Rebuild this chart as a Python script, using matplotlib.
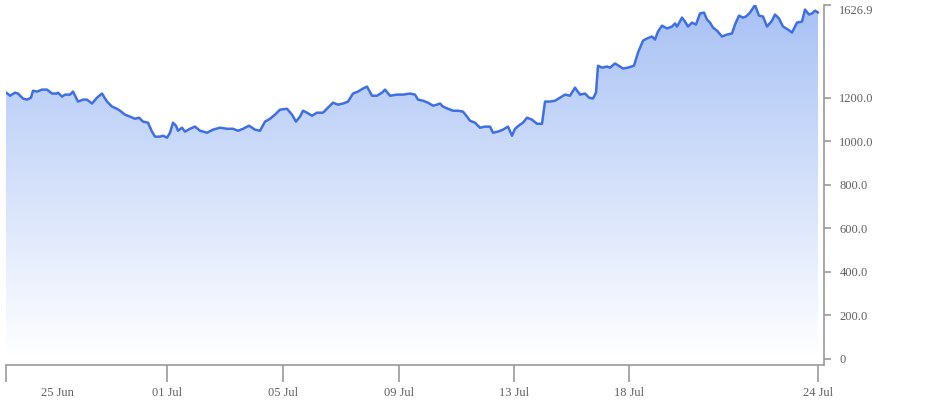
import numpy as np
import matplotlib.pyplot as plt
from matplotlib.colors import LinearSegmentedColormap
from matplotlib.ticker import FixedLocator

# ------------------------------
# Datos
# ------------------------------
# posición a lo largo del eje (unidades de muestra)
t = [0, 4, 9, 12, 17, 21, 25, 27, 31, 36, 41, 46, 51, 52, 56, 59, 64, 67, 72, 77,
     81, 86, 91, 96, 101, 106, 111, 114, 119, 124, 129, 133, 137, 142, 146, 149, 154, 157, 161, 164,
     167, 170, 172, 176, 179, 184, 189, 194, 201, 207, 214, 221, 227, 232, 237, 243, 249, 254, 259, 264,
     269, 274, 281, 286, 290, 294, 297, 301, 306, 311, 317, 322, 327, 332, 337, 342, 347, 352, 357, 361,
     366, 371, 376, 379, 384, 391, 397, 404, 409, 412, 417, 422, 427, 431, 434, 437, 442, 447, 452, 457,
     461, 464, 469, 474, 479, 484, 487, 492, 497, 502, 506, 509, 514, 517, 521, 526, 531, 536, 539, 544,
     549, 554, 559, 564, 569, 574, 579, 583, 587, 590, 592, 596, 601, 604, 609, 614, 617, 622, 628, 632,
     637, 641, 646, 649, 652, 656, 661, 666, 669, 671, 676, 679, 682, 686, 690, 694, 698, 701, 704, 707,
     711, 716, 721, 726, 729, 733, 737, 740, 744, 749, 753, 757, 761, 766, 769, 773, 777, 782, 786, 791,
     796, 799, 803, 806, 809, 812]
valores = [1225, 1210, 1224, 1220, 1197, 1192, 1201, 1233, 1229, 1238, 1238, 1220, 1220, 1224, 1206, 1215, 1215, 1229, 1183, 1192,
           1192, 1174, 1201, 1220, 1183, 1160, 1150, 1141, 1123, 1114, 1104, 1109, 1091, 1086, 1045, 1022, 1022, 1026, 1017, 1040,
           1086, 1072, 1049, 1063, 1045, 1058, 1068, 1049, 1040, 1054, 1063, 1058, 1058, 1049, 1058, 1072, 1054, 1049, 1091, 1104,
           1123, 1146, 1150, 1123, 1091, 1114, 1141, 1132, 1118, 1132, 1132, 1155, 1178, 1169, 1174, 1183, 1220, 1229, 1243, 1252,
           1210, 1210, 1224, 1238, 1210, 1215, 1215, 1220, 1215, 1192, 1187, 1178, 1164, 1169, 1174, 1160, 1150, 1141, 1141, 1137,
           1114, 1095, 1086, 1063, 1068, 1068, 1040, 1045, 1054, 1068, 1026, 1058, 1077, 1086, 1109, 1100, 1081, 1081, 1183, 1183,
           1187, 1201, 1215, 1210, 1247, 1215, 1220, 1201, 1197, 1224, 1348, 1339, 1344, 1339, 1358, 1344, 1335, 1339, 1348, 1408,
           1463, 1473, 1482, 1468, 1505, 1532, 1519, 1528, 1542, 1528, 1569, 1551, 1528, 1546, 1537, 1588, 1592, 1560, 1546, 1523,
           1509, 1482, 1491, 1496, 1537, 1578, 1569, 1574, 1592, 1626.9, 1578, 1574, 1528, 1555, 1583, 1565, 1528, 1514, 1500, 1546,
           1551, 1606, 1583, 1588, 1601, 1592]

# etiquetas del eje X
pos_ticks_x = [0, 161, 277, 393, 508, 623, 812]
etiquetas_x = ["", "01 Jul", "05 Jul", "09 Jul", "13 Jul", "18 Jul", "24 Jul"]
pos_primera = 51
etiqueta_primera = "25 Jun"

# etiquetas del eje Y
ticks_y = [0, 200, 400, 600, 800, 1000, 1200, 1626.9]
etiquetas_y = ["0", "200.0", "400.0", "600.0", "800.0", "1000.0", "1200.0", "1626.9"]

t = np.array(t, dtype=float)
valores = np.array(valores, dtype=float)

color_linea = "#3f6fe2"
color_eje = "#9a9a9a"
color_texto = "#606060"

fig = plt.figure(figsize=(9.41, 4.08), dpi=100)
ax = fig.add_axes([6 / 941, 43 / 408, 818 / 941, 360 / 408])

y_max = max(valores)
y_min = -27.6
ax.set_xlim(0, t[-1] + 6)
ax.set_ylim(y_min, y_max)

# Relleno con degradado (azul arriba -> blanco abajo)
cmap = LinearSegmentedColormap.from_list("deg", [(1, 1, 1), (0.66, 0.76, 0.96)])
gradiente = np.linspace(0, 1, 256).reshape(-1, 1)
relleno = ax.fill_between(t, valores, y_min, color="none", lw=0)
img = ax.imshow(gradiente, cmap=cmap, aspect="auto", origin="lower",
                extent=(t[0], t[-1], 0, y_max), zorder=1)
img.set_clip_path(relleno.get_paths()[0], transform=ax.transData)
ax.plot(t, valores, color=color_linea, lw=1.8, zorder=3,
        solid_joinstyle="round", solid_capstyle="round")

# Ejes
ax.spines["top"].set_visible(False)
ax.spines["left"].set_visible(False)
for lado in ["right", "bottom"]:
    ax.spines[lado].set_color(color_eje)
    ax.spines[lado].set_linewidth(1.2)

ax.yaxis.tick_right()
ax.yaxis.set_major_locator(FixedLocator(ticks_y))
ax.set_yticklabels(etiquetas_y)
ax.tick_params(axis="y", which="major", length=5, width=1.2, color=color_eje,
               labelcolor=color_texto, labelsize=9, pad=6)

ax.set_xticks(pos_ticks_x)
ax.set_xticklabels(etiquetas_x)
ax.set_xticks([pos_primera], minor=True)
ax.set_xticklabels([etiqueta_primera], minor=True)
ax.tick_params(axis="x", which="major", length=12, width=1.2, color=color_eje,
               labelcolor=color_texto, labelsize=9, pad=4)
ax.tick_params(axis="x", which="minor", length=0, labelcolor=color_texto,
               labelsize=9, pad=16)

for etiqueta in ax.get_xticklabels(minor=True) + ax.get_xticklabels() + ax.get_yticklabels():
    etiqueta.set_fontfamily("Liberation Serif")
ax.get_yticklabels()[-1].set_verticalalignment("top")

fig.savefig("out.png", dpi=100)
